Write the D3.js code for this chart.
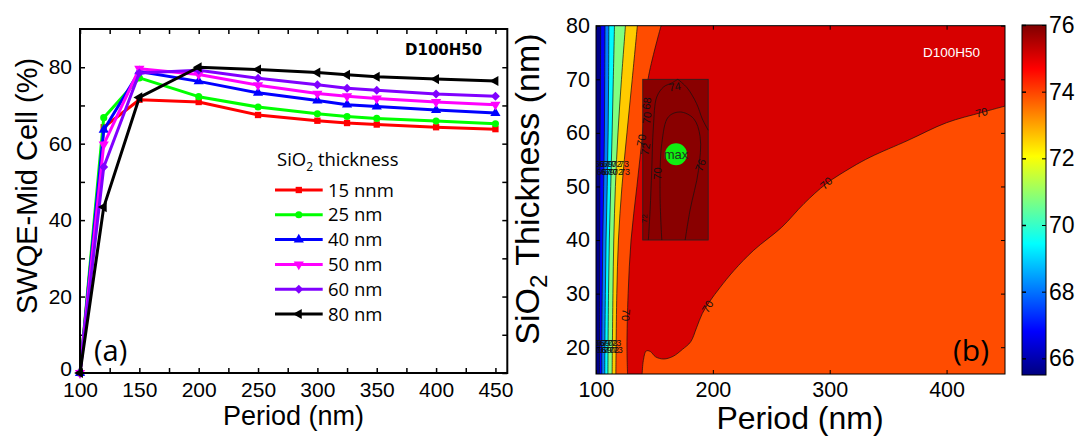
<!DOCTYPE html>
<html><head><meta charset="utf-8">
<script src="https://cdn.jsdelivr.net/npm/d3@7"></script>
<style>body{margin:0;background:#fff} svg{display:block}</style>
</head><body>
<svg id="fig" width="1079" height="437"></svg>
<script>
// ---------- Panel (a): SWQE of the mid cell vs. grating period ----------
const periods = [100, 120, 150, 200, 250, 300, 325, 350, 400, 450];
const seriesNames = ["15 nnm", "25 nm", "40 nm", "50 nm", "60 nm", "80 nm"];
const swqe15 = [0, 64.3, 71.5, 70.9, 67.5, 66.0, 65.4, 65.0, 64.3, 63.8];
const swqe25 = [0, 66.8, 77.2, 72.3, 69.6, 67.8, 67.1, 66.6, 65.9, 65.2];
const swqe40 = [0, 63.6, 78.9, 76.3, 73.3, 71.3, 70.2, 69.7, 68.8, 68.0];
const swqe50 = [0, 59.8, 79.6, 78.1, 75.3, 73.1, 72.4, 71.8, 70.9, 70.2];
const swqe60 = [0, 53.9, 78.5, 79.2, 77.1, 75.4, 74.5, 74.0, 73.0, 72.4];
const swqe80 = [0, 43.4, 72.1, 80.0, 79.4, 78.6, 78.0, 77.5, 76.9, 76.4];
const seriesColors = ["#ff0000", "#00ff00", "#0000ff", "#ff00ff", "#8000ff", "#000000"];
const xTicksA = [100, 150, 200, 250, 300, 350, 400, 450];
const yTicksA = [0, 20, 40, 60, 80];

// ---------- Panel (b): SWQE map over period and SiO2 thickness ----------
const cbarRange = [65.5, 76];
const cbarTicks = [66, 68, 70, 72, 74, 76];
const xTicksB = [100, 200, 300, 400];
const yTicksB = [20, 30, 40, 50, 60, 70, 80];
// contour levels near the short-period edge and the fill value of each band
const bandLevels = [66.2, 67.4, 68.7, 70.0, 71.6, 73.2, 74.5];
const bandValues = [65.6, 66.8, 68.1, 69.4, 70.75, 72.6, 73.9, 75.1];
// period (nm) where each level is crossed, at these thicknesses (nm)
const thickGrid = [15, 20, 30, 40, 50, 60, 70, 80];
const iso66 = [103.0, 103.0, 103.1, 103.2, 103.3, 103.5, 103.8, 104.0];
const iso67 = [105.0, 105.0, 105.3, 105.8, 106.6, 107.2, 107.5, 107.7];
const iso69 = [107.5, 107.6, 108.0, 108.6, 109.6, 110.4, 110.8, 111.0];
const iso70 = [110.2, 110.3, 110.7, 111.4, 112.6, 113.8, 114.8, 115.8];
const iso72 = [113.8, 114.0, 114.5, 115.2, 116.6, 118.8, 121.8, 125.2];
const iso73 = [117.0, 117.2, 117.8, 119.2, 122.2, 126.5, 131.0, 135.4];
const iso74 = [127.0, 126.5, 127.5, 130.0, 135.0, 140.0, 144.5, 155.7];
// lower-right region (period, thickness) bounded by the same 74.5 level
const lowRegionPeriod = [139.5, 140.5, 143, 146.5, 151, 158, 166, 174, 181, 186, 191, 197.5, 206, 218, 235, 259, 278, 297, 319, 335, 367, 400, 430, 450];
const lowRegionThick  = [15, 17.5, 19.3, 19.2, 18.2, 17.8, 18.3, 19.6, 21.0, 23.6, 26.3, 28.6, 31.1, 34.3, 38.1, 42.4, 46.8, 50.5, 53.6, 55.5, 58.6, 61.9, 63.8, 65];
const lowRegionValue = 73.9;
// refined scan window and its own contours
const insetPeriod = [140, 196];
const insetThick = [40, 70];
const insetValue = 75.9;
const innerPeriod = [156.3, 154.8, 156.3, 162, 172, 183.4, 189.1, 187.7, 180.5, 176.3];
const innerThick  = [40, 48.7, 58, 63, 63.9, 62.7, 59.3, 53, 45.6, 40];
const outerLeftPeriod = [144.8, 146.3, 147.7, 149.1, 152, 158, 164.7, 170];
const outerLeftThick  = [40, 45.6, 53, 61.1, 66.7, 68.6, 69.3, 70];
const outerRightPeriod = [170, 178, 186, 191, 196];
const outerRightThick  = [70, 68.4, 65.5, 62.6, 60.5];
const maxPoint = {period: 168.5, thick: 56};

const svg = d3.select("#fig");
const sans = "'Liberation Sans', Arial, sans-serif";
const soft = "'Open Sans', 'Liberation Sans', sans-serif";

// ===== Panel (a) =====
const A = {l: 80, r: 507.3, t: 29, b: 373};
const xA = d3.scaleLinear().domain([100, 460]).range([A.l, A.r]);
const yA = d3.scaleLinear().domain([0, 90]).range([A.b, A.t]);
const gA = svg.append("g");

function styleAxis(g, size) {
  g.select(".domain").remove();
  g.selectAll("line").attr("stroke", "#000").attr("stroke-width", 1.5);
  g.selectAll("text").attr("font-family", sans).attr("font-size", size).attr("fill", "#000");
}
const xMinorA = d3.range(125, 451, 50);
const yMinorA = d3.range(10, 81, 20);
// labelled ticks
gA.append("g").attr("transform", `translate(0,${A.b})`)
  .call(d3.axisBottom(xA).tickValues(xTicksA).tickSize(-5).tickPadding(9))
  .call(g => styleAxis(g, 21));
gA.append("g").attr("transform", `translate(${A.l},0)`)
  .call(d3.axisLeft(yA).tickValues(yTicksA).tickSize(-5).tickPadding(8))
  .call(g => styleAxis(g, 21))
  .call(g => g.selectAll("text").filter(d => d === 0).attr("dy", "0.12em"));
// unlabelled ticks: intermediate bottom/left, all on top/right
const tickOnly = (axis, vals) => axis.tickValues(vals).tickSize(-5).tickFormat("");
gA.append("g").attr("transform", `translate(0,${A.b})`)
  .call(tickOnly(d3.axisBottom(xA), xMinorA)).call(g => { styleAxis(g, 21); g.selectAll("text").remove(); });
gA.append("g").attr("transform", `translate(${A.l},0)`)
  .call(tickOnly(d3.axisLeft(yA), yMinorA)).call(g => { styleAxis(g, 21); g.selectAll("text").remove(); });
gA.append("g").attr("transform", `translate(0,${A.t})`)
  .call(tickOnly(d3.axisTop(xA), xTicksA.concat(xMinorA))).call(g => { styleAxis(g, 21); g.selectAll("text").remove(); });
gA.append("g").attr("transform", `translate(${A.r},0)`)
  .call(tickOnly(d3.axisRight(yA), yTicksA.concat(yMinorA))).call(g => { styleAxis(g, 21); g.selectAll("text").remove(); });

const swqeSeries = [swqe15, swqe25, swqe40, swqe50, swqe60, swqe80];
const symbolTypes = [d3.symbolSquare, d3.symbolCircle, d3.symbolTriangle, d3.symbolTriangle, d3.symbolSquare, d3.symbolTriangle];
const symbolRot = [0, 0, 0, 180, 45, -90];
const symbolSize = [40, 40, 45, 45, 40, 45];
const lineA = d3.line().x(d => xA(d[0])).y(d => yA(d[1]));

swqeSeries.forEach((vals, i) => {
  const pts = periods.map((p, j) => [p, vals[j]]);
  gA.append("path").attr("d", lineA(pts)).attr("fill", "none")
    .attr("stroke", seriesColors[i]).attr("stroke-width", 3).attr("stroke-linejoin", "round");
  gA.append("g").selectAll("path").data(pts).join("path")
    .attr("d", d3.symbol().type(symbolTypes[i]).size(symbolSize[i]))
    .attr("transform", d => `translate(${xA(d[0])},${yA(d[1])}) rotate(${symbolRot[i]})`)
    .attr("fill", seriesColors[i]);
});

gA.append("rect").attr("x", A.l).attr("y", A.t).attr("width", A.r - A.l).attr("height", A.b - A.t)
  .attr("fill", "none").attr("stroke", "#000").attr("stroke-width", 2);

// legend
const legA = gA.append("g");
const legTitle = legA.append("text").attr("x", 277).attr("y", 166)
  .attr("font-family", soft).attr("font-size", 18.5).attr("fill", "#000");
legTitle.append("tspan").text("SiO");
legTitle.append("tspan").text("2").attr("font-size", 12).attr("dy", 5);
legTitle.append("tspan").text(" thickness").attr("dy", -5);
seriesNames.forEach((name, i) => {
  const y = 190 + i * 24.8;
  legA.append("line").attr("x1", 275).attr("x2", 322.7).attr("y1", y).attr("y2", y)
    .attr("stroke", seriesColors[i]).attr("stroke-width", 3);
  legA.append("path").attr("d", d3.symbol().type(symbolTypes[i]).size(symbolSize[i]))
    .attr("transform", `translate(298.8,${y}) rotate(${symbolRot[i]})`).attr("fill", seriesColors[i]);
  legA.append("text").attr("x", 328).attr("y", y + 6.5).text(name)
    .attr("font-family", soft).attr("font-size", 18.5).attr("fill", "#000");
});

gA.append("text").attr("x", 405).attr("y", 55).text("D100H50")
  .attr("font-family", "'DejaVu Sans', sans-serif").attr("font-weight", "bold").attr("font-size", 15);
gA.append("text").attr("x", 94).attr("y", 361).text("(a)")
  .attr("font-family", soft).attr("font-size", 29);
gA.append("text").attr("x", 293.5).attr("y", 425).attr("text-anchor", "middle").text("Period (nm)")
  .attr("font-family", sans).attr("font-size", 27);
gA.append("text").attr("transform", "translate(37,186) rotate(-90)").attr("text-anchor", "middle")
  .text("SWQE-Mid Cell (%)").attr("font-family", sans).attr("font-size", 29);

// ===== Panel (b) =====
const B = {l: 596, r: 1005, t: 25.7, b: 374};
const xB = d3.scaleLinear().domain([100, 450]).range([B.l, B.r]);
const yB = d3.scaleLinear().domain([15, 80]).range([B.b, B.t]);
const jetT = [0, 0.125, 0.375, 0.625, 0.875, 1];
const jetColors = ["#00007f", "#0000ff", "#00ffff", "#ffff00", "#ff0000", "#7f0000"];
const jet = d3.scaleLinear()
  .domain(jetT.map(t => cbarRange[0] + t * (cbarRange[1] - cbarRange[0])))
  .range(jetColors).interpolate(d3.interpolateRgb);

svg.append("clipPath").attr("id", "clipB").append("rect")
  .attr("x", B.l).attr("y", B.t).attr("width", B.r - B.l).attr("height", B.b - B.t);
const gB = svg.append("g").attr("clip-path", "url(#clipB)");

gB.append("rect").attr("x", B.l).attr("y", B.t).attr("width", B.r - B.l).attr("height", B.b - B.t)
  .attr("fill", jet(bandValues[0]));

const isoLines = [iso66, iso67, iso69, iso70, iso72, iso73, iso74];
const isoLine = d3.line().x(d => xB(d[0])).y(d => yB(d[1])).curve(d3.curveCatmullRom);
isoLines.forEach((iso, i) => {
  const pts = thickGrid.map((t, j) => [iso[j], t]);
  const edge = isoLine(pts);
  gB.append("path")
    .attr("d", edge + `L${xB(450)},${yB(80)}L${xB(450)},${yB(15)}Z`)
    .attr("fill", jet(bandValues[i + 1]));
  gB.append("path").attr("d", edge).attr("fill", "none")
    .attr("stroke", "#111").attr("stroke-width", 0.7);
});

const lowPts = lowRegionPeriod.map((p, j) => [p, lowRegionThick[j]]);
const lowEdge = isoLine(lowPts);
gB.append("path").attr("d", lowEdge + `L${xB(450)},${yB(15)}Z`).attr("fill", jet(lowRegionValue));
gB.append("path").attr("d", lowEdge).attr("fill", "none").attr("stroke", "#111").attr("stroke-width", 0.7);

// refined window
gB.append("rect").attr("x", xB(insetPeriod[0])).attr("y", yB(insetThick[1]))
  .attr("width", xB(insetPeriod[1]) - xB(insetPeriod[0])).attr("height", yB(insetThick[0]) - yB(insetThick[1]))
  .attr("fill", jet(insetValue)).attr("stroke", "#222").attr("stroke-width", 0.8);
[[innerPeriod, innerThick], [outerLeftPeriod, outerLeftThick], [outerRightPeriod, outerRightThick]]
  .forEach(([ps, ts]) => {
    gB.append("path").attr("d", isoLine(ps.map((p, j) => [p, ts[j]])))
      .attr("fill", "none").attr("stroke", "#111").attr("stroke-width", 0.7);
  });

// contour labels
const smallLabel = (p, t, txt, rot, size) =>
  gB.append("text").attr("transform", `translate(${xB(p)},${yB(t)}) rotate(${rot})`)
    .attr("text-anchor", "middle").attr("dy", "0.35em").text(txt)
    .attr("font-family", sans).attr("font-size", size || 10).attr("fill", "#111");
[54.3, 52.8, 20.8, 19.6].forEach((t, r) => {
  isoLines.slice(0, 6).forEach((iso, i) => {
    const at = d3.scaleLinear().domain(thickGrid).range(iso)(t);
    smallLabel(at + (r % 2 ? 1.5 : 0), t, String(Math.round(bandLevels[i])), 0, 9);
  });
});
smallLabel(125.6, 26, "70", 95, 11);
smallLabel(195.5, 27.6, "70", -58, 11);
smallLabel(297, 50.6, "70", -42, 11);
smallLabel(430, 63.8, "70", -15, 11);
smallLabel(167.4, 68.6, "74", -8, 11);
smallLabel(143.4, 65.5, "68", -82, 11);
smallLabel(143.6, 62.8, "70", -82, 11);
smallLabel(138.8, 58.6, "70", -80, 11);
smallLabel(142.4, 57.0, "72", -80, 11);
smallLabel(152.6, 52.4, "70", -86, 11);
smallLabel(189.4, 54.0, "76", -68, 11);
smallLabel(141.6, 44, "72", -90, 8);

gB.append("circle").attr("cx", xB(maxPoint.period)).attr("cy", yB(maxPoint.thick)).attr("r", 11)
  .attr("fill", "#11ee11");
gB.append("text").attr("x", xB(maxPoint.period)).attr("y", yB(maxPoint.thick)).attr("dy", "0.35em")
  .attr("text-anchor", "middle").text("max").attr("font-family", sans).attr("font-size", 13).attr("fill", "#223322");

gB.append("text").attr("x", 923).attr("y", 57).text("D100H50")
  .attr("font-family", sans).attr("font-size", 13.5).attr("fill", "#fff");
gB.append("text").attr("x", 953).attr("y", 361).text("(b)")
  .attr("font-family", soft).attr("font-size", 30).attr("fill", "#000");

const gBa = svg.append("g");
gBa.append("g").attr("transform", `translate(0,${B.b})`)
  .call(d3.axisBottom(xB).tickValues(xTicksB).tickSize(-4).tickPadding(8))
  .call(g => styleAxis(g, 21.5));
gBa.append("g").attr("transform", `translate(0,${B.t})`)
  .call(d3.axisTop(xB).tickValues(xTicksB).tickSize(-4).tickFormat(""))
  .call(g => { styleAxis(g, 21.5); g.selectAll("text").remove(); });
gBa.append("g").attr("transform", `translate(${B.l},0)`)
  .call(d3.axisLeft(yB).tickValues(yTicksB).tickSize(-4).tickPadding(6))
  .call(g => styleAxis(g, 21.5));
gBa.append("g").attr("transform", `translate(${B.r},0)`)
  .call(d3.axisRight(yB).tickValues(yTicksB).tickSize(-4).tickFormat(""))
  .call(g => { styleAxis(g, 21.5); g.selectAll("text").remove(); });
gBa.selectAll("line").attr("stroke-width", 1);
gBa.append("rect").attr("x", B.l).attr("y", B.t).attr("width", B.r - B.l).attr("height", B.b - B.t)
  .attr("fill", "none").attr("stroke", "#000").attr("stroke-width", 1);

gBa.append("text").attr("x", 800).attr("y", 429).attr("text-anchor", "middle").text("Period (nm)")
  .attr("font-family", sans).attr("font-size", 32);
const yLabB = gBa.append("text").attr("transform", "translate(539,189) rotate(-90)")
  .attr("text-anchor", "middle").attr("font-family", sans).attr("font-size", 34);
yLabB.append("tspan").text("SiO");
yLabB.append("tspan").text("2").attr("font-size", 24).attr("dy", 8);
yLabB.append("tspan").text(" Thickness (nm)").attr("dy", -8);

// colour bar
const C = {l: 1022, r: 1046, t: 25, b: 375};
const yC = d3.scaleLinear().domain(cbarRange).range([C.b, C.t]);
const grad = svg.append("defs").append("linearGradient").attr("id", "jetGrad")
  .attr("x1", 0).attr("y1", 1).attr("x2", 0).attr("y2", 0);
jetT.forEach((t, i) => grad.append("stop").attr("offset", t).attr("stop-color", jetColors[i]));
svg.append("rect").attr("x", C.l).attr("y", C.t).attr("width", C.r - C.l).attr("height", C.b - C.t)
  .attr("fill", "url(#jetGrad)").attr("stroke", "#000").attr("stroke-width", 1);
svg.append("g").attr("transform", `translate(${C.r},0)`)
  .call(d3.axisRight(yC).tickValues(cbarTicks).tickSize(-4).tickPadding(3))
  .call(g => styleAxis(g, 23))
  .call(g => g.selectAll("line").attr("stroke-width", 1));
svg.append("g").attr("transform", `translate(${C.l},0)`)
  .call(d3.axisLeft(yC).tickValues(cbarTicks).tickSize(-4).tickFormat(""))
  .call(g => { styleAxis(g, 23); g.selectAll("text").remove(); });
</script>
</body></html>
